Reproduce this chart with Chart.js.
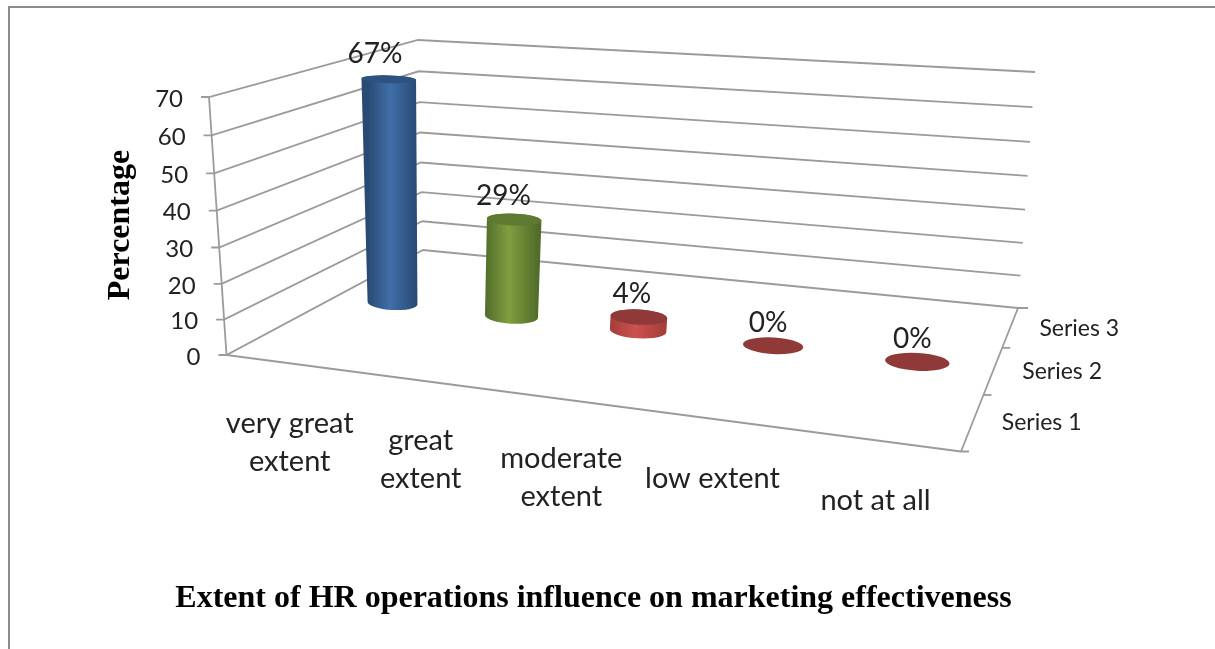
<!DOCTYPE html>
<html>
<head>
<meta charset="utf-8">
<title>Extent of HR operations influence on marketing effectiveness</title>
<script src="https://cdn.jsdelivr.net/npm/chart.js@4"></script>
<style>
  html, body { margin: 0; padding: 0; background: #fff; }
  canvas { display: block; }
</style>
</head>
<body>
<canvas id="plot-data" width="1215" height="649"></canvas>
<script>
const categories = [['very great', 'extent'], ['great', 'extent'], ['moderate', 'extent'], ['low extent'], ['not at all']];
const seriesNames = ['Series 1', 'Series 2', 'Series 3'];
const values = [67, 29, 4, 0, 0];
const yMax = 70;
const yStep = 10;
const chartTitle = 'Extent of HR operations influence on marketing effectiveness';
const yTitle = 'Percentage';

// bar colours: edge, middle, top
const barStyles = [
    ['#294a73', '#3f6ea8', '#2d5280'],
    ['#526c2a', '#7f9f40', '#5e7a31'],
    ['#a33c3a', '#cc524f', '#8f3a38'],
    ['#a33c3a', '#cc524f', '#8f3a38'],
    ['#a33c3a', '#cc524f', '#8f3a38']
];

// the 3d box on screen: front left, front right, back right, back left
const floorQuad = [[226.5, 355], [961, 451.5], [1018, 308], [423, 250]];
const topQuad = [[209, 97], [980.5, 144.5], [1035, 72], [418, 40]];
const heightBend = 1.05;
const barRow = 1;
const LABEL_FONT = 'Lato, sans-serif';
const SERIF_BOLD = 'bold 32px "Liberation Serif", serif';

function quadMap(q) {
    const [[x0, y0], [x1, y1], [x2, y2], [x3, y3]] = q;
    const dx1 = x1 - x2, dx2 = x3 - x2, sx = x0 - x1 + x2 - x3;
    const dy1 = y1 - y2, dy2 = y3 - y2, sy = y0 - y1 + y2 - y3;
    const den = dx1 * dy2 - dx2 * dy1;
    const g = (sx * dy2 - dx2 * sy) / den;
    const h = (dx1 * sy - sx * dy1) / den;
    const a = x1 - x0 + g * x1, b = x3 - x0 + h * x3;
    const d = y1 - y0 + g * y1, e = y3 - y0 + h * y3;
    return (u, v) => {
        const w = g * u + h * v + 1;
        return [(a * u + b * v + x0) / w, (d * u + e * v + y0) / w];
    };
}
const floorAt = quadMap(floorQuad);
const topAt = quadMap(topQuad);

// u along categories, v into the depth, t up the value axis (all 0..1)
function project(u, v, t) {
    const f = floorAt(u, v), p = topAt(u, v);
    const s = t / (t + heightBend * (1 - t));
    return [f[0] + (p[0] - f[0]) * s, f[1] + (p[1] - f[1]) * s];
}

function line(ctx, a, b) {
    ctx.beginPath();
    ctx.moveTo(a[0], a[1]);
    ctx.lineTo(b[0], b[1]);
    ctx.stroke();
}

function drawBox(chart) {
    const ctx = chart.ctx;
    const y = chart.scales.y;
    ctx.strokeStyle = '#9b9b9b';
    ctx.lineWidth = 1.8;
    ctx.fillStyle = '#222';
    ctx.font = '24px ' + LABEL_FONT;
    ctx.textAlign = 'right';
    ctx.textBaseline = 'middle';

    y.ticks.forEach(tick => {
        const t = tick.value / yMax;
        const fl = project(0, 0, t), bl = project(0, 1, t), br = project(1, 1, t);
        ctx.beginPath();
        ctx.moveTo(fl[0] - 8, fl[1]);
        ctx.lineTo(fl[0], fl[1]);
        ctx.lineTo(bl[0], bl[1]);
        ctx.lineTo(br[0], br[1]);
        if (tick.value === 0) ctx.lineTo(br[0] + 10, br[1]);
        ctx.stroke();
        ctx.fillText(String(tick.value), fl[0] - 26, fl[1] + 2);
    });
    line(ctx, project(0, 0, 0), project(0, 0, 1));

    // floor edges
    const fr = project(1, 0, 0);
    ctx.beginPath();
    ctx.moveTo(floorQuad[0][0], floorQuad[0][1]);
    ctx.lineTo(fr[0], fr[1]);
    ctx.lineTo(fr[0] + 8, fr[1]);
    ctx.stroke();
    line(ctx, fr, project(1, 1, 0));
    for (let i = 1; i < seriesNames.length; i++) {
        const p = project(1, i / seriesNames.length, 0);
        line(ctx, p, [p[0] + 8, p[1]]);
    }

    // depth axis labels
    ctx.font = '23px ' + LABEL_FONT;
    ctx.textAlign = 'left';
    seriesNames.forEach((name, i) => {
        const p = project(1, (i + 0.5) / seriesNames.length, 0);
        ctx.fillText(name, p[0] + 29, p[1] + 1);
    });

    // category labels
    ctx.font = '29px ' + LABEL_FONT;
    ctx.textAlign = 'center';
    categories.forEach((lines, i) => {
        const p = project((i + 0.5) / categories.length, 0, 0);
        lines.forEach((txt, k) => ctx.fillText(txt, p[0] + 1, p[1] + 60 + k * 38));
    });

    // value axis title
    ctx.save();
    ctx.translate(121, 225);
    ctx.rotate(-Math.PI / 2);
    ctx.font = SERIF_BOLD;
    ctx.fillStyle = '#000';
    ctx.fillText(yTitle, 0, 0);
    ctx.restore();
}

function ellipseAt(u, v, t, du, dv) {
    const c = project(u, v, t);
    const l = project(u - du, v, t), r = project(u + du, v, t);
    const n = project(u, v + dv, t), f = project(u, v - dv, t);
    return {
        x: c[0], y: c[1],
        a: Math.hypot(r[0] - l[0], r[1] - l[1]) / 2,
        b: Math.abs(f[1] - n[1]) / 2,
        rot: Math.atan2(r[1] - l[1], r[0] - l[0]) * 0.5
    };
}

function drawBars(chart) {
    const ctx = chart.ctx;
    const area = chart.chartArea;
    const meta = chart.getDatasetMeta(0);
    const v = (barRow + 0.5) / seriesNames.length;
    const dv = 0.065;

    meta.data.forEach((bar, i) => {
        const u = (bar.x - area.left) / area.width;
        const du = bar.width / area.width / 2;
        const t = (bar.base - bar.y) / area.height;
        const low = ellipseAt(u, v, 0, du, dv);
        const top = ellipseAt(u, v, t, du, dv);
        const style = barStyles[i];

        if (values[i] > 0) {
            const g = ctx.createLinearGradient(low.x - low.a, 0, low.x + low.a, 0);
            g.addColorStop(0, style[0]);
            g.addColorStop(0.45, style[1]);
            g.addColorStop(1, style[0]);
            ctx.fillStyle = g;
            ctx.beginPath();
            ctx.ellipse(low.x, low.y, low.a, low.b, low.rot, 0, Math.PI);
            ctx.ellipse(top.x, top.y, top.a, top.b, top.rot, Math.PI, Math.PI * 2);
            ctx.closePath();
            ctx.fill();
        }
        ctx.fillStyle = style[2];
        ctx.beginPath();
        ctx.ellipse(top.x, top.y, top.a, top.b, top.rot, 0, Math.PI * 2);
        ctx.fill();

        ctx.fillStyle = '#222';
        ctx.font = '28px ' + LABEL_FONT;
        ctx.textAlign = 'center';
        ctx.textBaseline = 'middle';
        ctx.fillText(values[i] + '%', top.x - 5 - 9 * Math.sqrt(t), top.y - 23 - 2 * t);
    });
}

const box3d = {
    id: 'box3d',
    beforeDraw(chart) {
        const ctx = chart.ctx;
        ctx.save();
        ctx.strokeStyle = '#8c8c8c';
        ctx.lineWidth = 2;
        ctx.beginPath();
        ctx.moveTo(9, 649);
        ctx.lineTo(9, 7);
        ctx.lineTo(1215, 7);
        ctx.stroke();
        ctx.restore();
    },
    afterDatasetsDraw(chart) {
        chart.ctx.save();
        drawBox(chart);
        drawBars(chart);
        chart.ctx.restore();
    }
};

new Chart(document.getElementById('plot-data').getContext('2d'), {
    type: 'bar',
    data: {
        labels: categories,
        datasets: [{
            label: seriesNames[barRow],
            data: values,
            backgroundColor: 'transparent',
            barPercentage: 0.43,
            categoryPercentage: 1
        }]
    },
    plugins: [box3d],
    options: {
        responsive: false,
        animation: false,
        layout: { padding: { left: 0, right: 28, top: 20, bottom: 31 } },
        plugins: {
            legend: { display: false },
            tooltip: { enabled: false },
            title: {
                display: true,
                text: chartTitle,
                position: 'bottom',
                fullSize: false,
                color: '#000',
                font: { family: '"Liberation Serif", serif', size: 32, weight: 'bold' },
                padding: { top: 6, bottom: 0 }
            }
        },
        scales: {
            x: { display: false },
            y: { display: false, min: 0, max: yMax, ticks: { stepSize: yStep } }
        }
    }
});
</script>
</body>
</html>
